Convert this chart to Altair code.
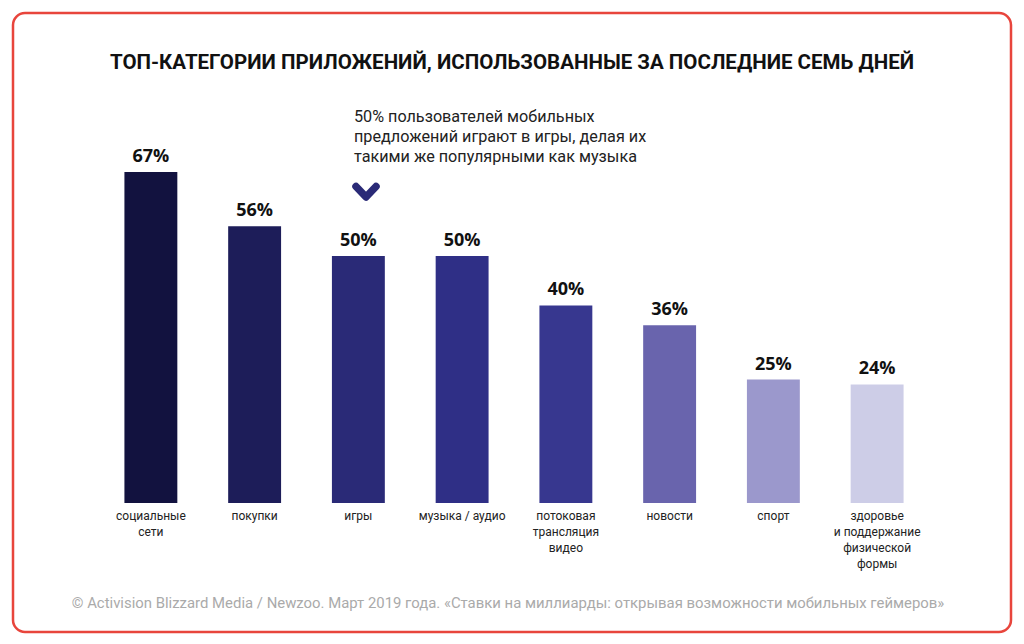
import altair as alt
import pandas as pd

categories = ["социальные сети", "покупки", "игры", "музыка / аудио",
              "потоковая трансляция видео", "новости", "спорт",
              "здоровье и поддержание физической формы"]
cat_labels = ["социальные\nсети", "покупки", "игры", "музыка / аудио",
              "потоковая\nтрансляция\nвидео", "новости", "спорт",
              "здоровье\nи поддержание\nфизической\nформы"]
values = [67, 56, 50, 50, 40, 36, 25, 24]
value_labels = ["67%", "56%", "50%", "50%", "40%", "36%", "25%", "24%"]
colors = ["#12123f", "#1d1d59", "#2a2a77", "#2f2f86", "#37378f",
          "#6964ad", "#9b98cc", "#cdcde7"]

title_text = "ТОП-КАТЕГОРИИ ПРИЛОЖЕНИЙ, ИСПОЛЬЗОВАННЫЕ ЗА ПОСЛЕДНИЕ СЕМЬ ДНЕЙ"
note_text = "50% пользователей мобильных\nпредложений играют в игры, делая их\nтакими же популярными как музыка"
source_text = "© Activision Blizzard Media / Newzoo. Март 2019 года. «Ставки на миллиарды: открывая возможности мобильных геймеров»"

df = pd.DataFrame({"cat": categories, "label": cat_labels,
                   "value": values, "vlabel": value_labels})
one = pd.DataFrame({"a": [0]})

xscale = alt.Scale(domain=categories, range=[91, 921],
                   paddingInner=0.49, paddingOuter=0.245)
yscale = alt.Scale(domain=[0, 100], range=[495, 1])

base = alt.Chart(df)

bars = base.mark_bar().encode(
    x=alt.X("cat:N", scale=xscale, axis=None, sort=categories),
    y=alt.Y("value:Q", scale=yscale, axis=None),
    color=alt.Color("cat:N", scale=alt.Scale(domain=categories, range=colors), legend=None),
)

vlabels = base.mark_text(font="Open Sans", fontWeight="bold", fontSize=18,
                         color="#111111", baseline="bottom", dy=-6).encode(
    x=alt.X("cat:N", scale=xscale, axis=None, sort=categories),
    y=alt.Y("value:Q", scale=yscale, axis=None),
    text="vlabel:N",
)

clabels = base.mark_text(font="Roboto", fontSize=12, color="#222222",
                         baseline="top", lineBreak="\n", lineHeight=16).encode(
    x=alt.X("cat:N", scale=xscale, axis=None, sort=categories),
    y=alt.value(503),
    text="label:N",
)

border = alt.Chart(one).mark_rect(fill="white", fillOpacity=0, stroke="#e8453c",
                                  strokeWidth=2.5, cornerRadius=12).encode(
    x=alt.value(5), x2=alt.value(1003), y=alt.value(5), y2=alt.value(624))

title = alt.Chart(one).mark_text(font="Roboto", fontWeight="bold", fontSize=20.5,
                                 color="#111111", align="center", baseline="middle").encode(
    x=alt.value(504), y=alt.value(55), text=alt.value(title_text))

note = alt.Chart(one).mark_text(font="Roboto", fontSize=16.2, color="#222222",
                                align="left", baseline="middle", lineBreak="\n",
                                lineHeight=20).encode(
    x=alt.value(346), y=alt.value(109), text=alt.value(note_text))

chevron = alt.Chart(one).mark_point(shape="M-1,-0.55L0,0.5L1,-0.55", filled=False,
                                    stroke="#2a2a77", strokeWidth=7.5, size=400,
                                    strokeCap="round", strokeJoin="round", opacity=1).encode(
    x=alt.value(358), y=alt.value(184))

source = alt.Chart(one).mark_text(font="Roboto", fontSize=14.9, color="#aaaaaa",
                                  align="center", baseline="middle").encode(
    x=alt.value(500), y=alt.value(596), text=alt.value(source_text))

chart = alt.layer(border, bars, vlabels, clabels, title, note, chevron, source).properties(
    width=1008, height=628, padding=0, autosize=alt.AutoSizeParams(type="none"),
    background="white",
).configure_view(stroke=None)

chart.save("out.html", embed_options={"renderer": "svg", "actions": False})
